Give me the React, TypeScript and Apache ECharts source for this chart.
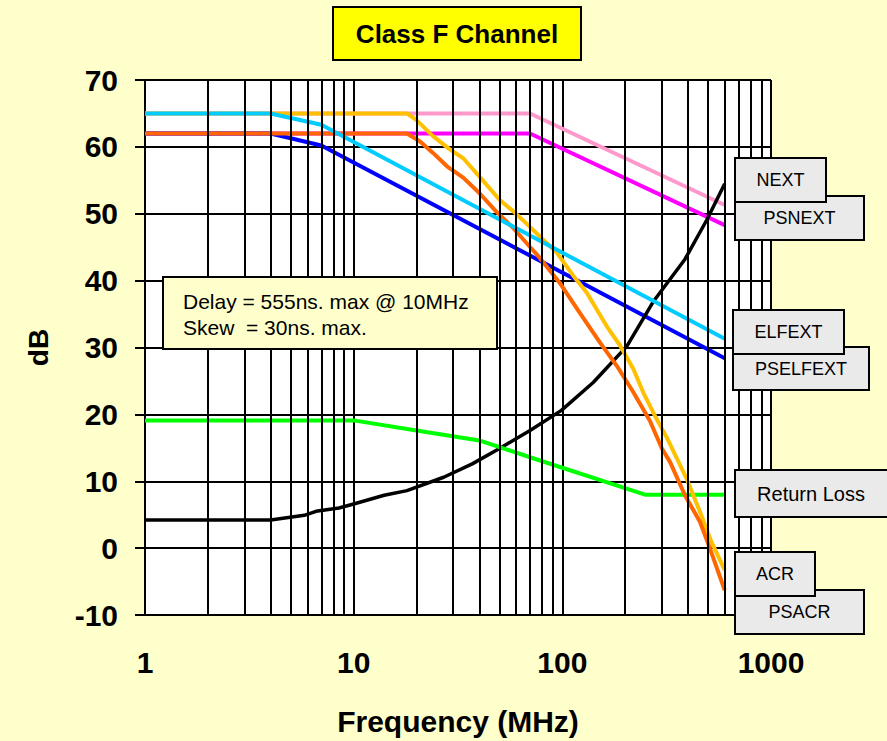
import React, { useEffect, useRef } from "react";
import * as echarts from "echarts";

// ---- Data (frequency MHz, dB) ----
const nextData: number[][] = [[1, 65], [70, 65], [600, 51.3]];
const psnextData: number[][] = [[1, 62], [70, 62], [600, 48.3]];
const elfextData: number[][] = [[1, 65], [4, 65], [7, 63.3], [600, 31.3]];
const pselfextData: number[][] = [[1, 62], [4, 62], [7, 60.2], [600, 28.4]];
const returnLossData: number[][] = [[1, 19.1], [10, 19.1], [20, 17.6], [40, 16.1], [73, 13.4], [249, 8], [600, 8]];
const acrData: number[][] = [
  [1, 65], [18, 65], [20, 64], [24, 61.6], [29, 59.6], [33.5, 58.3], [40, 55.6], [50, 52.1], [58, 50.4],
  [67, 48.6], [78, 46.6], [94, 44.2], [113, 40.7], [131, 38.2], [163, 33.2], [189, 30.3], [219, 26.8],
  [244, 23.3], [283, 19.3], [316, 16.6], [394, 10.4], [457, 5.4], [519, 0.9], [600, -3.3],
];
const psacrData: number[][] = [
  [1, 62], [18, 62], [20.8, 60.8], [24, 59.1], [28, 57.1], [33.5, 55.4], [40, 53.1], [48, 50.4], [58, 47.9],
  [67, 45.7], [78, 43.4], [97, 39.7], [121, 35.2], [151, 30.8], [182, 27.3], [219, 23.3], [263, 19],
  [300, 14.9], [328, 12.9], [387, 7.9], [457, 3.9], [509, 0], [600, -6.3],
];
const insertionLossData: number[][] = [
  [1, 4.2], [4, 4.2], [5.8, 4.9], [6.6, 5.5], [8.5, 6.0], [10, 6.6], [14, 7.9], [18, 8.6], [27, 10.6],
  [37, 12.6], [50, 14.9], [70, 17.6], [99, 20.6], [141, 24.8], [204, 30.2], [272, 36.8], [387, 43.2],
  [493, 49.1], [600, 54.5],
];

const minorGridX: number[] = [2, 3, 4, 5, 6, 7, 8, 9, 20, 30, 40, 50, 60, 70, 80, 90, 200, 300, 400, 500, 600, 700, 800, 900];

const titleText = "Class F Channel";
const xAxisTitle = "Frequency (MHz)";
const yAxisTitle = "dB";
const noteLines = ["Delay = 555ns. max @ 10MHz", "Skew  = 30ns. max."];

const FONT = "'Liberation Sans', Arial, Helvetica, sans-serif";
const GRID_W = 2;

type LabelBox = { text: string; x: number; y: number; w: number; h: number; size: number };
// order: later drawn on top
const labelBoxes: LabelBox[] = [
  { text: "PSNEXT", x: 735, y: 196, w: 129, h: 44, size: 18 },
  { text: "NEXT", x: 735, y: 158, w: 91, h: 44, size: 18 },
  { text: "PSELFEXT", x: 733, y: 347, w: 136, h: 43, size: 18 },
  { text: "ELFEXT", x: 733, y: 310, w: 111, h: 44, size: 18 },
  { text: "Return Loss", x: 735, y: 470, w: 170, h: 47, size: 20 },
  { text: "PSACR", x: 735, y: 590, w: 129, h: 44, size: 18 },
  { text: "ACR", x: 735, y: 552, w: 80, h: 44, size: 18 },
];

function line(name: string, data: number[][], color: string, width = 4) {
  return {
    name,
    type: "line",
    data,
    showSymbol: false,
    symbol: "none",
    smooth: false,
    lineStyle: { color, width, cap: "butt", join: "round" },
    itemStyle: { color },
    silent: true,
    z: 3,
  };
}

export default function App() {
  const ref = useRef<HTMLDivElement>(null);

  useEffect(() => {
    if (!ref.current) return;
    const chart = echarts.init(ref.current, null, { renderer: "svg", width: 887, height: 741 });

    const graphics: any[] = [];
    // title box
    graphics.push({
      type: "rect",
      z: 100,
      shape: { x: 333, y: 7, width: 248, height: 53 },
      style: { fill: "#FFFF00", stroke: "#000", lineWidth: 2 },
    });
    graphics.push({
      type: "text",
      z: 101,
      x: 457,
      y: 34,
      style: { text: titleText, fill: "#000", font: `bold 26px ${FONT}`, align: "center", verticalAlign: "middle" },
    });
    // note box
    graphics.push({
      type: "rect",
      z: 100,
      shape: { x: 163, y: 277, width: 334, height: 72 },
      style: { fill: "#FFFFCC", stroke: "#000", lineWidth: 2 },
    });
    noteLines.forEach((t, i) => {
      graphics.push({
        type: "text",
        z: 101,
        x: 183,
        y: 301 + i * 26.5,
        style: { text: t, fill: "#000", font: `21px ${FONT}`, align: "left", verticalAlign: "middle" },
      });
    });
    // label boxes
    labelBoxes.forEach((b, i) => {
      graphics.push({
        type: "rect",
        z: 100 + i * 2,
        shape: { x: b.x, y: b.y, width: b.w, height: b.h },
        style: { fill: "#EAEAEA", stroke: "#000", lineWidth: 2 },
      });
      graphics.push({
        type: "text",
        z: 101 + i * 2,
        x: b.text === "Return Loss" ? b.x + 76 : b.x + b.w / 2,
        y: b.y + b.h / 2,
        style: { text: b.text, fill: "#000", font: `${b.size}px ${FONT}`, align: "center", verticalAlign: "middle" },
      });
    });

    const option: any = {
      animation: false,
      backgroundColor: "#FFFFCC",
      textStyle: { fontFamily: FONT },
      grid: {
        left: 145,
        top: 80,
        width: 626,
        height: 537,
        show: true,
        backgroundColor: "#FFFFFF",
        borderWidth: 0,
        containLabel: false,
      },
      xAxis: {
        type: "log",
        logBase: 10,
        min: 1,
        max: 1000,
        name: xAxisTitle,
        nameLocation: "middle",
        nameGap: 91,
        nameTextStyle: { color: "#000", fontSize: 30, fontWeight: "bold", fontFamily: FONT },
        axisLine: { show: true, lineStyle: { color: "#000", width: GRID_W } },
        axisTick: { show: true, length: 9, lineStyle: { color: "#000", width: GRID_W } },
        axisLabel: {
          color: "#000",
          fontSize: 30,
          fontWeight: "bold",
          fontFamily: FONT,
          margin: 32,
          formatter: (v: number) => String(v),
        },
        splitLine: { show: true, lineStyle: { color: "#000", width: GRID_W } },
        minorTick: { show: false },
        minorSplitLine: { show: false },
      },
      yAxis: {
        type: "value",
        min: -10,
        max: 70,
        interval: 10,
        name: yAxisTitle,
        nameLocation: "middle",
        nameGap: 93,
        nameRotate: 90,
        nameTextStyle: { color: "#000", fontSize: 28, fontWeight: "bold", fontFamily: FONT },
        axisLine: { show: true, lineStyle: { color: "#000", width: GRID_W } },
        axisTick: { show: true, length: 10, lineStyle: { color: "#000", width: GRID_W } },
        axisLabel: { color: "#000", fontSize: 30, fontWeight: "bold", fontFamily: FONT, margin: 27 },
        splitLine: { show: true, lineStyle: { color: "#000", width: GRID_W } },
      },
      series: [
        {
          name: "minor-grid",
          type: "line",
          data: [],
          silent: true,
          z: 1,
          markLine: {
            silent: true,
            symbol: ["none", "none"],
            label: { show: false },
            lineStyle: { color: "#000", width: GRID_W, type: "solid" },
            emphasis: { disabled: true },
            data: minorGridX.map((v) => ({ xAxis: v })),
          },
        },
        line("NEXT", nextData, "#FF99CC"),
        line("PSNEXT", psnextData, "#FF00FF"),
        line("PSELFEXT", pselfextData, "#0000FF"),
        line("Insertion Loss", insertionLossData, "#000000", 3.5),
        line("Return Loss", returnLossData, "#00FF00"),
        line("ACR", acrData, "#FFC000"),
        line("PSACR", psacrData, "#FF6600"),
        line("ELFEXT", elfextData, "#00CCFF"),
      ],
      graphic: graphics,
    };

    chart.setOption(option);
    return () => {
      chart.dispose();
    };
  }, []);

  return (
    <div
      ref={ref}
      style={{ position: "fixed", left: 0, top: 0, width: 887, height: 741 }}
    />
  );
}
